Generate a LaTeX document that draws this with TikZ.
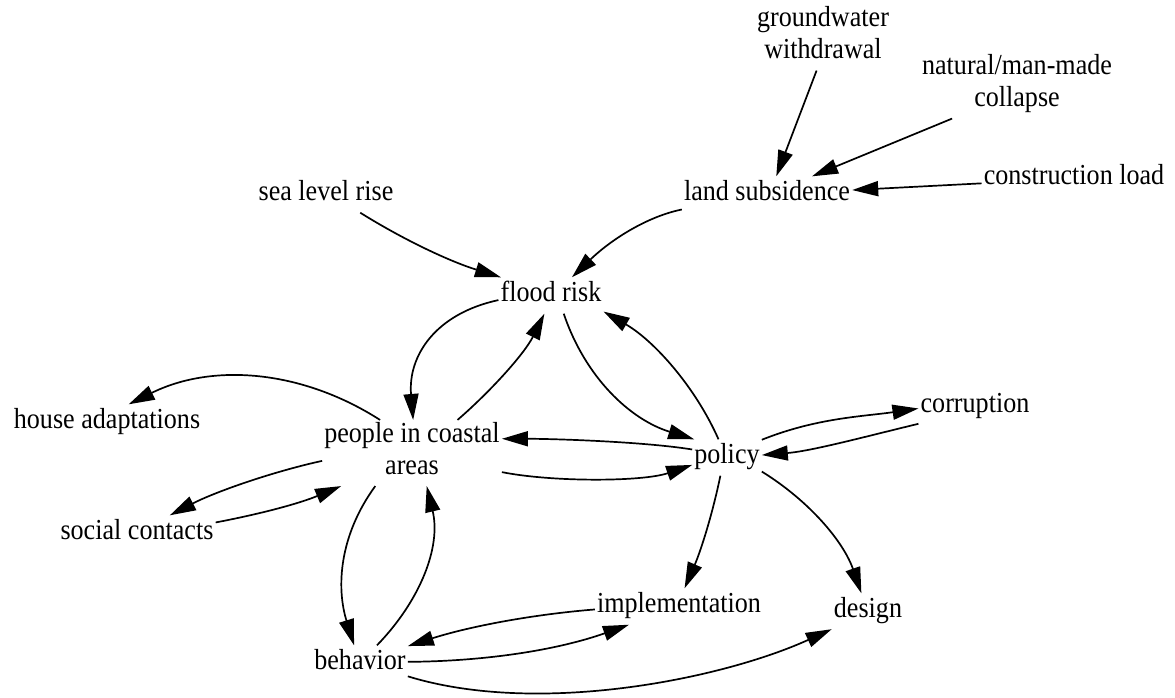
\documentclass[tikz,border=0pt]{standalone}
\usepackage{fontspec}
\setmainfont{Liberation Serif}
\newfontfamily\lbfont[FakeStretch=0.9]{Liberation Serif}
\usetikzlibrary{arrows.meta}
\begin{document}
\begin{tikzpicture}[x=1pt,y=-1pt,
  lbl/.style={inner sep=2pt, align=center, font=\lbfont\fontsize{29}{32}\selectfont, execute at begin node=\strut},
  arr/.style={draw, line width=1.7pt, -{Triangle[length=26pt,width=15pt]}}]
\useasboundingbox (0,0) rectangle (1175,697);
% nodes
\node[lbl] (gw)  at (823,37.5)  {groundwater\\\strut withdrawal};
\node[lbl] (nat) at (1017,85.5) {natural/man-made\\\strut collapse};
\node[lbl] (cl)  at (1074,178.5) {construction load};
\node[lbl] (ls)  at (767,194.5) {land subsidence};
\node[lbl] (slr) at (326,194.5) {sea level rise};
\node[lbl] (fr)  at (551,295.5) {flood risk};
\node[lbl] (ha)  at (107,422.5) {house adaptations};
\node[lbl] (pe)  at (412,453) {people in coastal\\\strut areas};
\node[lbl] (po)  at (727,457.5) {policy};
\node[lbl] (co)  at (975,406.5) {corruption};
\node[lbl] (sc)  at (137,533.5) {social contacts};
\node[lbl] (im)  at (679,606.5) {implementation};
\node[lbl] (de)  at (868,611.5) {design};
\node[lbl] (be)  at (360,663.5) {behavior};
% connectors
\draw[arr] (gw.259) -- (ls.63);
\draw[arr] (nat.207) -- (ls.22);
\draw[arr] (cl.183) -- (ls.3);
\draw[arr] (ls.190) .. controls +(-33.5,6.7) and +(40.2,-38.7) .. (fr.41);
\draw[arr] (slr.-28) .. controls +(44.7,27.9) and +(-50.3,-15.6) .. (fr.160);
\draw[arr] (fr.185) .. controls +(-63,13.5) and +(-5.3,-64) .. (pe.88);
\draw[arr] (pe.36) .. controls +(33.5,-29) and +(-19.8,39.8) .. (fr.250);
\draw[arr] (fr.305) .. controls +(21.5,63.7) and +(-64,-19.7) .. (po.151);
\draw[arr] (po.115) .. controls +(-23.3,-52.8) and +(50,28.7) .. (fr.-17);
\draw[arr] (pe.134) .. controls +(-78.5,-50.3) and +(83.7,-41.5) .. (ha.40);
\draw[arr] (po.167) .. controls +(-50,-8) and +(50,0) .. (pe.9);
\draw[arr] (pe.-12) .. controls +(50,10) and +(-50,17) .. (po.192);
\draw[arr] (pe.185) .. controls +(-50,11) and +(45.5,-23.5) .. (sc.29);
\draw[arr] (sc.8) .. controls +(44.7,-8.5) and +(-42,17.5) .. (pe.205);
\draw[arr] (pe.222) .. controls +(-36,49.4) and +(-18,-58.3) .. (be.108);
\draw[arr] (be.47) .. controls +(43.4,-44.8) and +(14.5,60.7) .. (pe.294);
\draw[arr] (po.27) .. controls +(55,-22) and +(-55,8) .. (co.182);
\draw[arr] (co.197) .. controls +(-50,12) and +(50,-4) .. (po.4);
\draw[arr] (po.250) .. controls +(-8,39) and +(16,-37) .. (im.73);
\draw[arr] (po.-22) .. controls +(47,29) and +(-18,-52) .. (de.110);
\draw[arr] (im.182) .. controls +(-63.6,5.1) and +(60.8,-19.4) .. (be.20);
\draw[arr] (be.2) .. controls +(76.7,-0.5) and +(-72.2,25.5) .. (im.200);
\draw[arr] (be.-15) .. controls +(130,40) and +(-110,50) .. (de.206);
\end{tikzpicture}
\end{document}
